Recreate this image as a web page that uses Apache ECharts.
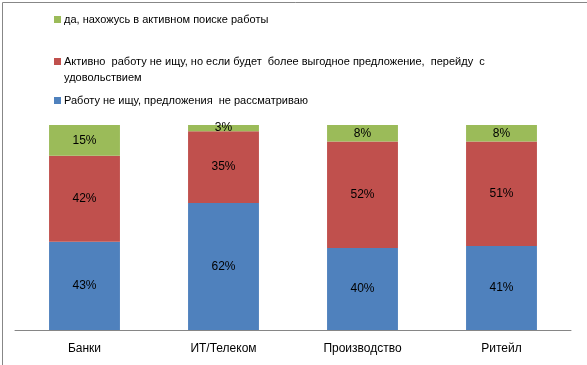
<!DOCTYPE html>
<html><head><meta charset="utf-8">
<script src="https://cdn.jsdelivr.net/npm/echarts@6/dist/echarts.min.js"></script>
<style>html,body{margin:0;padding:0;background:#fff}#c{width:587px;height:365px}</style>
</head><body><div id="c"></div>
<script>
const categories = ['Банки', 'ИТ/Телеком', 'Производство', 'Ритейл'];
const notLooking = [43, 62, 40, 41];
const passive = [42, 35, 52, 51];
const active = [15, 3, 8, 8];
const seriesNames = [
  'Работу не ищу, предложения  не рассматриваю',
  'Активно  работу не ищу, но если будет  более выгодное предложение,  перейду  с',
  'да, нахожусь в активном поиске работы'
];
const font = 'Liberation Sans';
const chart = echarts.init(document.getElementById('c'));
const label = {show: true, position: 'inside', color: '#000', fontSize: 12, fontFamily: font, formatter: p => p.value + '%'};
function leg(name, top) {
  return {data: [name], left: 54, top: top, orient: 'vertical', itemWidth: 7, itemHeight: 7, itemGap: 0, padding: 0,
    icon: 'rect', selectedMode: false, textStyle: {fontSize: 11, fontFamily: font, color: '#000', padding: [0, 0, 0, -2]}};
}
chart.setOption({
  animation: false,
  legend: [leg(seriesNames[2], 14), leg(seriesNames[1], 56), leg(seriesNames[0], 95)],
  graphic: [
    {type: 'rect', left: 0, top: 0, shape: {width: 586, height: 364}, style: {fill: 'none', stroke: '#878787', lineWidth: 1}},
    {type: 'text', left: 64, top: 72, style: {text: 'удовольствием', fontSize: 11, fontFamily: font, fill: '#000'}}
  ],
  grid: {left: 15, right: 16, top: 125, bottom: 35},
  xAxis: {type: 'category', data: categories, axisTick: {show: false},
    axisLine: {lineStyle: {color: '#868686'}},
    axisLabel: {color: '#000', fontSize: 12, fontFamily: font, margin: 13}},
  yAxis: {type: 'value', min: 0, max: 100, show: false, splitLine: {show: false}},
  series: [
    {name: seriesNames[0], type: 'bar', stack: 't', data: notLooking, barWidth: '51%', itemStyle: {color: '#4F81BD'}, label},
    {name: seriesNames[1], type: 'bar', stack: 't', data: passive, itemStyle: {color: '#C0504D'}, label},
    {name: seriesNames[2], type: 'bar', stack: 't', data: active, itemStyle: {color: '#9BBB59'}, label}
  ]
});
</script></body></html>
